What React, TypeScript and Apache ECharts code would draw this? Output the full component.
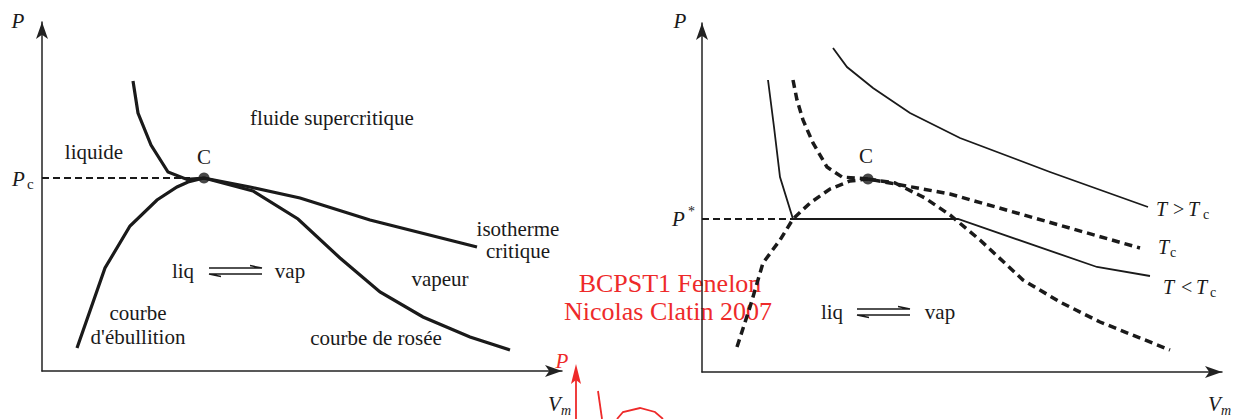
import React, { useEffect, useRef } from "react";
import * as echarts from "echarts";

// Left diagram: phase regions in the (V_m, P) plane, arbitrary units.
const criticalIsotherm = [[22.75, 72.5], [24, 64.5], [27.25, 56.5], [31.5, 49.75], [36.25, 47.9], [40.5, 48.25], [52, 46], [64.5, 43.25], [82, 37.75], [108.75, 31]];
const bubbleCurve = [[8.75, 5.75], [15.75, 25.75], [22, 36.25], [28.75, 42.75], [33.75, 46], [36.5, 47.25], [40.5, 48.25]];
const dewCurve = [[40.5, 48.25], [52.75, 45], [64, 38], [74.5, 28.25], [84.5, 19.75], [95.25, 13.5], [107, 8.5], [117, 5.25]];
const criticalPointLeft = [40.5, 48.25];
const pcLine = [[0, 48.25], [37, 48.25]];

// Right diagram: Andrews isotherms.
const isothermAbove = [[32.75, 81], [36.25, 76.25], [42.75, 71], [52, 64.75], [64.5, 58.5], [87, 50], [111.5, 41.25]];
const isothermCritical = [[22.75, 73], [23.75, 68], [25.25, 63], [27.75, 57.25], [31.25, 51.25], [35, 48.75], [41.5, 48.25], [47, 47.25], [62, 44.5], [109.5, 31]];
const isothermBelow = [[16.5, 73], [18, 61.25], [19.5, 48.75], [22.75, 38.25], [64, 38.25], [98.75, 26.25], [112, 24]];
const bubbleRight = [[8.75, 6.25], [12, 16.25], [15.25, 27.25], [19.5, 33], [22.75, 38.25], [27, 42.25], [32, 45.75], [37, 47.75], [41.5, 48.25]];
const dewRight = [[41.5, 48.25], [48.25, 47.25], [55.75, 43.5], [62, 39.25], [69.5, 33], [80.25, 23], [89.5, 17.5], [99.5, 12.5], [117, 5.5]];
const criticalPointRight = [41.5, 48.25];
const pStarLine = [[0, 38.25], [22.75, 38.25]];

const INK = "#1a1a1a";
const RED = "#ee2a2a";
const SERIF = '"Liberation Serif", "DejaVu Serif", serif';

type TextOpts = { size?: number; italic?: boolean; fill?: string; align?: string };
function txt(text: string, x: number, y: number, o: TextOpts = {}) {
  const align = o.align || "center";
  return {
    type: "text",
    x,
    y,
    silent: true,
    style: {
      text,
      fill: o.fill || INK,
      font: `${o.italic ? "italic " : ""}${o.size || 21}px ${SERIF}`,
      align,
      verticalAlign: "middle",
      textAlign: align,
      textVerticalAlign: "middle",
    },
  };
}

function line(points: number[][], stroke = INK, width = 1.2) {
  return { type: "polyline", silent: true, shape: { points }, style: { stroke, lineWidth: width, fill: null } };
}

// Equilibrium half-arrows "⇌" between two labels.
function equilibrium(x0: number, x1: number, y: number) {
  return [
    line([[x0, y], [x1, y], [x1 - 12, y - 2.5]], INK, 1.3),
    line([[x1, y + 6], [x0, y + 6], [x0 + 12, y + 8.5]], INK, 1.3),
  ];
}

function axisPair(gridIndex: number) {
  const axisLine = {
    show: true,
    onZero: false,
    symbol: ["none", "arrow"],
    symbolSize: [9, 17],
    lineStyle: { color: "#222", width: 1.5 },
  };
  const common = {
    type: "value",
    gridIndex,
    min: 0,
    axisLine,
    axisTick: { show: false },
    axisLabel: { show: false },
    splitLine: { show: false },
  };
  return {
    x: { ...common, max: 130 },
    y: { ...common, max: 87.25 },
  };
}

function curve(data: number[][], idx: number, width: number, dashed?: number[]) {
  return {
    type: "line",
    xAxisIndex: idx,
    yAxisIndex: idx,
    data,
    showSymbol: false,
    symbol: "none",
    silent: true,
    lineStyle: { color: INK, width, type: dashed || "solid", cap: "butt", join: "miter" },
  };
}

export default function App() {
  const ref = useRef<HTMLDivElement>(null);

  useEffect(() => {
    if (!ref.current) return;
    const chart = echarts.init(ref.current, null, { renderer: "svg" });
    const a0 = axisPair(0);
    const a1 = axisPair(1);

    chart.setOption({
      animation: false,
      backgroundColor: "#ffffff",
      grid: [
        { left: 42, top: 22, width: 520, height: 349 },
        { left: 702, top: 23, width: 520, height: 349 },
      ],
      xAxis: [a0.x, a1.x],
      yAxis: [a0.y, a1.y],
      series: [
        curve(pcLine, 0, 1.8, [7, 4]),
        curve(criticalIsotherm, 0, 3.2),
        curve(bubbleCurve, 0, 3.2),
        curve(dewCurve, 0, 3.2),
        {
          type: "scatter",
          xAxisIndex: 0,
          yAxisIndex: 0,
          data: [criticalPointLeft],
          symbolSize: 11,
          itemStyle: { color: INK },
          silent: true,
        },
        curve(pStarLine, 1, 1.8, [7, 4]),
        curve(isothermAbove, 1, 1.8),
        curve(isothermBelow, 1, 1.8),
        curve(isothermCritical, 1, 3.5, [8, 5]),
        curve(bubbleRight, 1, 3.5, [8, 5]),
        curve(dewRight, 1, 3.5, [8, 5]),
        {
          type: "scatter",
          xAxisIndex: 1,
          yAxisIndex: 1,
          data: [criticalPointRight],
          symbolSize: 11,
          itemStyle: { color: INK },
          silent: true,
        },
      ],
      graphic: [
        // left diagram labels
        txt("P", 18, 21, { italic: true }),
        txt("P", 12, 179, { italic: true, align: "left" }),
        txt("c", 27, 184, { size: 15, align: "left" }),
        txt("liquide", 94, 152),
        txt("C", 204, 157),
        txt("fluide supercritique", 332, 118),
        txt("isotherme", 518, 229),
        txt("critique", 518, 251),
        txt("liq", 183, 271),
        txt("vap", 290, 271),
        ...equilibrium(209, 262, 268),
        txt("vapeur", 440, 279),
        txt("courbe", 138, 313),
        txt("d'ébullition", 138, 337),
        txt("courbe de rosée", 376, 338),
        txt("V", 548, 404, { italic: true, align: "left" }),
        txt("m", 561, 410, { italic: true, size: 14, align: "left" }),

        // right diagram labels
        txt("P", 680, 21, { italic: true }),
        txt("P", 672, 219, { italic: true, align: "left" }),
        txt("*", 688, 211, { size: 14, align: "left" }),
        txt("C", 866, 156),
        txt("T", 1156, 209, { italic: true, align: "left", size: 20 }),
        txt(">", 1173, 209, { align: "left", size: 20 }),
        txt("T", 1188, 209, { italic: true, align: "left", size: 20 }),
        txt("c", 1203, 214, { align: "left", size: 14 }),
        txt("T", 1158, 247, { italic: true, align: "left", size: 20 }),
        txt("c", 1170, 252, { align: "left", size: 14 }),
        txt("T", 1163, 287, { italic: true, align: "left", size: 20 }),
        txt("<", 1181, 287, { align: "left", size: 20 }),
        txt("T", 1196, 287, { italic: true, align: "left", size: 20 }),
        txt("c", 1210, 292, { align: "left", size: 14 }),
        txt("liq", 832, 312),
        txt("vap", 940, 312),
        ...equilibrium(857, 910, 309),
        txt("V", 1208, 404, { italic: true, align: "left" }),
        txt("m", 1221, 410, { italic: true, size: 14, align: "left" }),

        // red credit and the edge of the next drawing
        txt("BCPST1 Fenelon", 670, 283, { fill: RED, size: 26 }),
        txt("Nicolas Clatin 2007", 668, 311, { fill: RED, size: 26 }),
        txt("P", 562, 361, { fill: RED, italic: true, size: 21 }),
        line([[576, 419], [576, 378]], RED, 1.8),
        {
          type: "polygon",
          silent: true,
          shape: { points: [[576, 364], [581, 384], [576, 380], [571, 384]] },
          style: { fill: RED },
        },
        line([[598, 391], [602, 419]], RED, 1.8),
        line([[617, 419], [623, 412], [640, 408], [655, 412], [663, 419]], RED, 1.8),
      ],
    });

    return () => chart.dispose();
  }, []);

  return (
    <div
      ref={ref}
      style={{ position: "absolute", left: 0, top: 0, width: 1234, height: 419, background: "#fff" }}
    />
  );
}
